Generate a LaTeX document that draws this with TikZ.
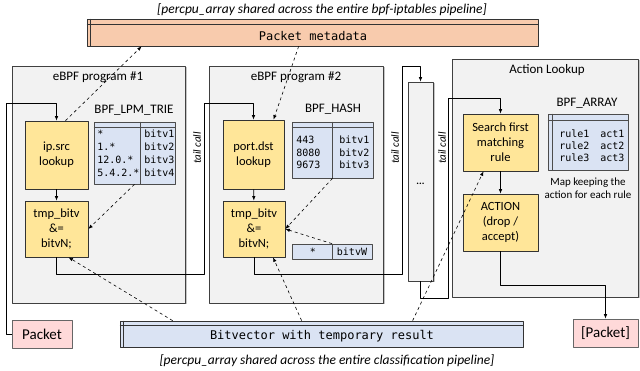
\documentclass[tikz,border=0pt]{standalone}
\usepackage{fontspec}
\setmainfont{Carlito}
\setmonofont{DejaVu Sans Mono}
\usepackage{tikz}
\usetikzlibrary{arrows.meta,shadows,calc}

\definecolor{stageyellow}{HTML}{FFE699}
\definecolor{mapblue}{HTML}{DAE3F3}
\definecolor{metaorange}{HTML}{F8CBAD}
\definecolor{pktpink}{HTML}{FFD9D9}
\definecolor{proggray}{HTML}{F2F2F2}

\begin{document}
\begin{tikzpicture}[x=1pt, y=-1pt, line join=round, line width=0.7pt,
  >={Latex[length=4.5pt,width=3.5pt]},
  prog/.style={draw=black!75, fill=proggray, drop shadow={shadow xshift=1.5pt, shadow yshift=-1.5pt, opacity=0.45}},
  stage/.style={draw=black!80, fill=stageyellow, align=center, inner sep=0pt, font=\fontsize{12.5}{15}\selectfont},
  map/.style={draw=black!70, fill=mapblue, inner sep=0pt},
  shared/.style={draw=black!80, inner sep=0pt},
  maptext/.style={font=\ttfamily\fontsize{10}{12}\selectfont, inner sep=0pt},
  title/.style={font=\fontsize{13}{15}\selectfont},
  tail/.style={rotate=90, font=\itshape\fontsize{11}{12}\selectfont},
  caption/.style={font=\itshape\fontsize{13.5}{15}\selectfont},
  pkt/.style={draw=black!60, fill=pktpink, inner sep=0pt, font=\fontsize{15}{17}\selectfont}]

  \useasboundingbox (0,0) rectangle (640,371);

  % shared maps
  \node[caption] at (322,10) {[percpu\_array shared across the entire bpf-iptables pipeline]};
  \node[shared, fill=metaorange, minimum width=451pt, minimum height=27pt] (meta) at (312.5,32.5) {};
  \draw[black!80] ([yshift=-6pt]meta.north west) -- ([yshift=-6pt]meta.north east);
  \draw[black!80] ([xshift=4pt]meta.north west) -- ([xshift=4pt]meta.south west);
  \node[font=\ttfamily\fontsize{12}{14}\selectfont] at (313,36) {Packet metadata};

  \node[shared, fill=mapblue, minimum width=403pt, minimum height=26pt] (bitv) at (321.5,334) {};
  \draw[black!80] ([yshift=-5pt]bitv.north west) -- ([yshift=-5pt]bitv.north east);
  \draw[black!80] ([xshift=4pt]bitv.north west) -- ([xshift=4pt]bitv.south west);
  \node[font=\ttfamily\fontsize{12}{14}\selectfont] at (322,336) {Bitvector with temporary result};
  \node[caption] at (327,361) {[percpu\_array shared across the entire classification pipeline]};

  % program boxes
  \node[prog, minimum width=173pt, minimum height=237pt] (prog1) at (98.5,184.5) {};
  \node[prog, minimum width=174pt, minimum height=237pt] (prog2) at (296,184.5) {};
  \node[prog, minimum width=25pt, minimum height=199pt] (dots) at (420.5,181.5) {};
  \node[prog, minimum width=186pt, minimum height=238pt] (act) at (545,178) {};
  \node[title] at (98,77) {eBPF program \#1};
  \node[title] at (296,77) {eBPF program \#2};
  \node[title] at (547,70) {Action Lookup};
  \node[font=\bfseries] at (420.5,184) {...};

  % tail call labels
  \node[tail] at (197,148) {tail call};
  \node[tail] at (395,148) {tail call};
  \node[tail] at (442,148) {tail call};

  % stages
  \node[stage, minimum width=63pt, minimum height=68pt] (ipsrc) at (56.5,155) {ip.src\\lookup};
  \node[stage, minimum width=63pt, minimum height=56pt] (tmp1) at (56.5,229) {tmp\_bitv\\\&=\\bitvN;};
  \node[stage, minimum width=61pt, minimum height=69pt] (portdst) at (253.5,154.5) {port.dst\\lookup};
  \node[stage, minimum width=62pt, minimum height=56pt] (tmp2) at (254,229) {tmp\_bitv\\\&=\\bitvN;};
  \node[stage, minimum width=75pt, minimum height=57pt] (search) at (500.5,142.5) {Search first\\matching\\rule};
  \node[stage, minimum width=75pt, minimum height=57pt] (action) at (500.5,222.5) {ACTION\\(drop /\\accept)};

  % BPF_LPM_TRIE
  \node[title] at (134,110) {BPF\_LPM\_TRIE};
  \node[map, minimum width=81pt, minimum height=62pt] (lpm) at (134.5,153) {};
  \draw[black!70] ([yshift=-5.5pt]lpm.north west) -- ([yshift=-5.5pt]lpm.north east);
  \draw[black!70] ($(lpm.north west)+(47,0)$) -- ($(lpm.south west)+(47,0)$);
  \foreach \k/\v [count=\i] in {*/bitv1, 1.*/bitv2, 12.0.*/bitv3, 5.4.2.*/bitv4} {
    \node[maptext, anchor=west] at (97,{121+13*\i}) {\k};
    \node[maptext, anchor=west] at (144,{121+13*\i}) {\v};
  }

  % BPF_HASH
  \node[title] at (333,109) {BPF\_HASH};
  \node[map, minimum width=81pt, minimum height=56pt] (hash) at (332.5,150) {};
  \draw[black!70] ([yshift=-5.5pt]hash.north west) -- ([yshift=-5.5pt]hash.north east);
  \draw[black!70] (hash.north) -- (hash.south);
  \foreach \k/\v [count=\i] in {443/bitv1, 8080/bitv2, 9673/bitv3} {
    \node[maptext, anchor=west] at (296,{127.5+12.5*\i}) {\k};
    \node[maptext, anchor=west] at (339,{127.5+12.5*\i}) {\v};
  }
  \node[map, minimum width=80pt, minimum height=15pt] (wild) at (332,251.5) {};
  \draw[black!70] (wild.north) -- (wild.south);
  \node[maptext] at (313,251.5) {*};
  \node[maptext] at (352,251.5) {bitvW};

  % BPF_ARRAY
  \node[title] at (587,103) {BPF\_ARRAY};
  \node[map, minimum width=80pt, minimum height=56pt] (arr) at (588,142) {};
  \draw[black!70] ([yshift=-7pt]arr.north west) -- ([yshift=-7pt]arr.north east);
  \draw[black!70] ([xshift=5pt]arr.north west) -- ([xshift=5pt]arr.south west);
  \foreach \i in {1,2,3} {
    \node[maptext, anchor=west] at (559,{122+12*\i}) {rule\i};
    \node[maptext, anchor=west] at (600,{122+12*\i}) {act\i};
  }
  \node[align=center, font=\fontsize{11}{13}\selectfont] at (588,188.5) {Map keeping the\\action for each rule};

  % packets
  \node[pkt, minimum width=60pt, minimum height=28pt] (pkt) at (42,334) {Packet};
  \node[pkt, minimum width=65pt, minimum height=28pt] (pktout) at (605.5,333) {[Packet]};

  % control flow
  \draw[->] (pkt.west) -| (6,103) -| (ipsrc.north);
  \draw[->] (ipsrc) -- (tmp1);
  \draw[->] (tmp1.south) -- ++(0,17) -| (204,103) -| (portdst.north);
  \draw[->] (portdst) -- (tmp2);
  \draw[->] (tmp2.south) -- ++(0,17) -| (402,66) -| (dots.north);
  \draw[->] (dots.south) -- ++(0,17) -| (448,98) -| (search.north);
  \draw[->] (search) -- (action);
  \draw[->] (action.south) -- ++(0,34) -| (pktout.north);

  % map accesses
  \draw[->, dashed, line width=0.6pt] ([xshift=9pt]ipsrc.north) -- ($(meta.south west)+(55,0)$);
  \draw[->, dashed, line width=0.6pt] ($(meta.south west)+(212,0)$) -- ([xshift=20pt]portdst.north);
  \draw[->, dashed, line width=0.6pt] (lpm.south) -- (tmp1.east);
  \draw[->, dashed, line width=0.6pt] (hash.south) -- (tmp2.east);
  \draw[->, dashed, line width=0.6pt] (wild.north) -- (tmp2.east);
  \draw[->, dashed, line width=0.6pt] ($(bitv.north west)+(53,0)$) -- ([xshift=12pt]tmp1.south);
  \draw[->, dashed, line width=0.6pt] ($(bitv.north west)+(182,0)$) -- ([xshift=19pt]tmp2.south);
  \draw[->, dashed, line width=0.6pt] ($(bitv.north west)+(293,0)$) -- ([xshift=-17pt]search.south);

\end{tikzpicture}
\end{document}
